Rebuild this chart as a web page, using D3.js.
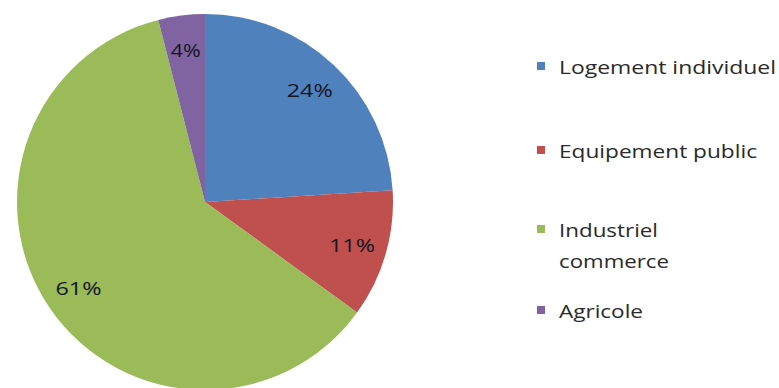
<!DOCTYPE html>
<html><head><meta charset="utf-8">
<script src="https://cdn.jsdelivr.net/npm/d3@7"></script>
<style>html,body{margin:0;padding:0;background:#fff;}svg{display:block;}</style>
</head><body>
<svg id="c" width="779" height="388"></svg>
<script>
const categories = ["Logement individuel", "Equipement public", "Industriel commerce", "Agricole"];
const legendLines = [["Logement individuel"], ["Equipement public"], ["Industriel", "commerce"], ["Agricole"]];
const values = [24, 11, 61, 4];
const colors = ["#4F81BD", "#C0504D", "#9BBB59", "#8064A2"];

const svg = d3.select("#c");
const cx = 205, cy = 202, r = 188;
const pie = d3.pie().sort(null).value(d => d);
const arcs = pie(values);
const arc = d3.arc().innerRadius(0).outerRadius(r);
const labelArc = d3.arc().innerRadius(153).outerRadius(153);

const g = svg.append("g").attr("transform", `translate(${cx},${cy})`);
g.selectAll("path").data(arcs).join("path")
  .attr("d", arc).attr("fill", (d, i) => colors[i]);

const total = d3.sum(values);
g.selectAll("text").data(arcs).join("text")
  .attr("transform", d => `translate(${labelArc.centroid(d)})`)
  .attr("text-anchor", "middle").attr("dy", "0.36em")
  .attr("font-family", "Open Sans, sans-serif").attr("font-size", 19)
  .attr("fill", "#15151f")
  .attr("textLength", d => (Math.round(d.data / total * 100) >= 10 ? 46 : 30))
  .attr("lengthAdjust", "spacingAndGlyphs")
  .text(d => Math.round(d.data / total * 100) + "%");

// legend
const legY = [66, 150, 229, 310];
const lg = svg.append("g");
const textWidths = [[217], [198], [99, 110], [84]];
categories.forEach((c, i) => {
  lg.append("rect").attr("x", 537).attr("y", legY[i] - 4).attr("width", 8).attr("height", 8)
    .attr("fill", colors[i]);
  legendLines[i].forEach((line, j) => {
    lg.append("text").attr("x", 559).attr("y", legY[i] + 8 + j * 31)
      .attr("font-family", "Open Sans, sans-serif").attr("font-size", 18)
      .attr("fill", "#2a2a2a")
      .attr("textLength", textWidths[i][j]).attr("lengthAdjust", "spacingAndGlyphs")
      .text(line);
  });
});
</script>
</body></html>
